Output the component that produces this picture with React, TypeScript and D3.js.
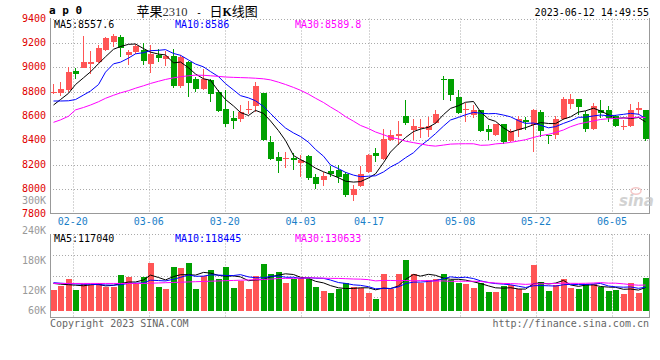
import React from 'react';
import * as d3 from 'd3';

// trading sessions 2023-02-15 .. 2023-06-12
const dates = [
  '02-15', '02-16', '02-17', '02-20', '02-21', '02-22', '02-23', '02-24', '02-27', '02-28',
  '03-01', '03-02', '03-03', '03-06', '03-07', '03-08', '03-09', '03-10', '03-13', '03-14',
  '03-15', '03-16', '03-17', '03-20', '03-21', '03-22', '03-23', '03-24', '03-27', '03-28',
  '03-29', '03-30', '03-31', '04-03', '04-04', '04-06', '04-07', '04-10', '04-11', '04-12',
  '04-13', '04-14', '04-17', '04-18', '04-19', '04-20', '04-21', '04-24', '04-25', '04-26',
  '04-27', '04-28', '05-04', '05-05', '05-08', '05-09', '05-10', '05-11', '05-12', '05-15',
  '05-16', '05-17', '05-18', '05-19', '05-22', '05-23', '05-24', '05-25', '05-26', '05-29',
  '05-30', '05-31', '06-01', '06-02', '06-05', '06-06', '06-07', '06-08', '06-09', '06-12',
];

const opens = [
  8790, 8788, 8810, 8968, 8993, 9023, 9042, 9145, 9205, 9252,
  9104, 9124, 9143, 9028, 9104, 9069, 9096, 8845, 9042, 8900,
  8820, 8892, 8796, 8659, 8586, 8572, 8655, 8679, 8788, 8386,
  8264, 8252, 8258, 8214, 8269, 8100, 8073, 8146, 8160, 8127,
  7950, 8023, 8141, 8299, 8250, 8406, 8433, 8597, 8487, 8507,
  8487, 8542, 8900, 8905, 8760, 8650, 8605, 8651, 8496, 8441,
  8531, 8395, 8482, 8564, 8523, 8632, 8447, 8441, 8572, 8695,
  8741, 8618, 8490, 8651, 8651, 8597, 8518, 8515, 8646, 8651,
];
const highs = [
  8865, 8883, 9006, 8990, 9255, 9137, 9186, 9246, 9274, 9265,
  9145, 9192, 9197, 9186, 9151, 9137, 9151, 9102, 9055, 8919,
  8987, 8905, 8810, 8810, 8638, 8687, 8720, 8883, 8790, 8433,
  8305, 8305, 8296, 8277, 8277, 8127, 8141, 8187, 8195, 8141,
  8032, 8187, 8291, 8340, 8496, 8482, 8556, 8733, 8578, 8578,
  8591, 8646, 8932, 8905, 8810, 8706, 8687, 8651, 8523, 8535,
  8535, 8496, 8597, 8591, 8659, 8646, 8447, 8597, 8755, 8782,
  8741, 8640, 8706, 8733, 8679, 8605, 8564, 8700, 8714, 8651,
];
const lows = [
  8780, 8763, 8796, 8900, 8990, 8946, 9033, 9132, 9164, 9083,
  9020, 9110, 9022, 8952, 9042, 9014, 8829, 8829, 8755, 8796,
  8815, 8714, 8635, 8509, 8496, 8550, 8618, 8632, 8395, 8242,
  8133, 8176, 8154, 8100, 8073, 8004, 8026, 8100, 8051, 7936,
  7903, 8018, 8133, 8223, 8236, 8395, 8359, 8523, 8400, 8422,
  8428, 8531, 8728, 8722, 8618, 8550, 8586, 8468, 8400, 8436,
  8373, 8386, 8427, 8482, 8305, 8427, 8373, 8414, 8564, 8654,
  8605, 8468, 8482, 8586, 8550, 8509, 8482, 8509, 8605, 8392,
];
const closes = [
  8795, 8823, 8957, 8946, 9047, 9039, 9159, 9238, 9255, 9159,
  9129, 9173, 9050, 9110, 9077, 9096, 8845, 9088, 8872, 8823,
  8900, 8782, 8640, 8531, 8558, 8632, 8660, 8850, 8406, 8250,
  8231, 8256, 8236, 8236, 8092, 8040, 8108, 8127, 8100, 7950,
  8004, 8127, 8277, 8269, 8408, 8441, 8455, 8542, 8515, 8511,
  8515, 8619, 8897, 8769, 8624, 8654, 8651, 8477, 8468, 8531,
  8386, 8477, 8578, 8548, 8651, 8477, 8438, 8572, 8736, 8741,
  8673, 8490, 8679, 8624, 8586, 8515, 8522, 8651, 8665, 8408,
];
const volumes = [
  121000, 130000, 143000, 121000, 134000, 131000, 135000, 127000, 127000, 151000,
  147000, 135000, 147000, 176000, 127000, 123000, 168000, 166000, 176000, 123000,
  150000, 161000, 143000, 168000, 126000, 140000, 123000, 150000, 173000, 153000,
  157000, 136000, 143000, 145000, 143000, 127000, 120000, 116000, 123000, 136000,
  128000, 126000, 116000, 103000, 153000, 123000, 153000, 181000, 153000, 136000,
  141000, 143000, 153000, 141000, 136000, 133000, 126000, 136000, 117000, 117000,
  129000, 131000, 123000, 116000, 171000, 138000, 120000, 131000, 143000, 126000,
  123000, 133000, 133000, 127000, 120000, 121000, 113000, 136000, 116000, 146000,
];

// MA points before a full window is available (they need older sessions)
const ma5Lead = [8690, 8735, 8786, 8858];
const ma10Lead = [8723, 8723, 8725, 8735, 8772, 8805, 8858, 8960, 9028];
const ma30Lead = [
  8548, 8568, 8598, 8650, 8670, 8690, 8717, 8745, 8770, 8790,
  8808, 8828, 8848, 8867, 8885, 8900, 8913, 8922, 8930, 8935,
  8934, 8930, 8925, 8920, 8917, 8915, 8913, 8910, 8905,
];
const vma5Lead = [134500, 133000, 132000, 131000];
const vma10Lead = [136000, 135000, 134000, 133500, 133000, 133000, 132000, 131500, 131000];
const vma30Lead = [
  134500, 134500, 134500, 134500, 134500, 134500, 134500, 134500, 134500, 134500,
  134500, 134500, 134500, 135000, 135500, 136000, 136500, 137000, 137500, 138000,
  138500, 139000, 139500, 140000, 140500, 141000, 141500, 142000, 142500,
];

const dateTicks = ['02-20', '03-06', '03-20', '04-03', '04-17', '05-08', '05-22', '06-05'];
const priceTicks = [9400, 9200, 9000, 8800, 8600, 8400, 8200, 8000, 7800];
const volTicks = [300000, 240000, 180000, 120000, 60000];
const priceMaLabels = ['MA5:8557.6', 'MA10:8586', 'MA30:8589.8'];
const volMaLabels = ['MA5:117040', 'MA10:118445', 'MA30:130633'];
const maColors = ['#000000', '#0000ff', '#ff00ff'];

const UP = '#ff5555';
const DOWN = '#00a000';
const MONO = '"DejaVu Sans Mono", monospace';
const CJK = '"Noto Sans CJK SC", sans-serif';
const SERIF = '"Liberation Serif", serif';

const movingAverage = (vals: number[], n: number, lead: number[]) =>
  vals.map((_, i) => (i < n - 1 ? lead[i] : (d3.mean(vals.slice(i - n + 1, i + 1)) as number)));

export default function App() {
  const left = 50;
  const right = 650;
  const x = d3.scaleBand().domain(dates).range([left, right]);
  const cx = (d: string) => Math.round((x(d) as number) + x.bandwidth() / 2);
  // date grid uses point spacing (slightly wider than the candle step)
  const xTick = d3.scalePoint().domain(dates).range([left, right]);

  const y = d3.scaleLinear().domain([7800, 9400]).range([213.5, 18.5]);
  const yVol = d3.scaleLinear().domain([60000, 300000]).range([320.7, 200.7]);
  const volBase = 311;
  const volTop = 234.5;
  const volBottom = 317.5;

  const priceMAs = [
    movingAverage(closes, 5, ma5Lead),
    movingAverage(closes, 10, ma10Lead),
    movingAverage(closes, 30, ma30Lead),
  ];
  const volMAs = [
    movingAverage(volumes, 5, vma5Lead),
    movingAverage(volumes, 10, vma10Lead),
    movingAverage(volumes, 30, vma30Lead),
  ];

  const priceLine = d3
    .line<number>()
    .x((_, i) => cx(dates[i]) - 0.5)
    .y((v) => y(v));
  const volLine = d3
    .line<number>()
    .x((_, i) => cx(dates[i]) - 0.5)
    .y((v) => yVol(v));

  const grid = '#aaaaaa';
  const axis = '#999999';

  return (
    <svg
      width={660}
      height={360}
      style={{ position: 'absolute', left: 0, top: 0, background: '#fff' }}
    >
      {/* header */}
      <text x={49} y={14} fontFamily={MONO} fontWeight="bold" fontSize={11}>a p 0</text>
      <text y={16} fontFamily={CJK} fontSize={13}>
        <tspan x={136.5}>苹果</tspan>
        <tspan fontFamily={SERIF} fontSize={12.5} fill="#333">2310</tspan>
        <tspan x={196} fontFamily={MONO} fontSize={10}>-</tspan>
        <tspan x={209.5}>日</tspan>
        <tspan fontFamily={SERIF} fontWeight="bold" fontSize={12}>K</tspan>
        <tspan>线图</tspan>
      </text>
      <text x={649} y={16} textAnchor="end" fontFamily={MONO} fontSize={10}>2023-06-12 14:49:55</text>

      {/* price panel grid */}
      {priceTicks.slice(0, -1).map((t) => (
        <line key={t} x1={left} x2={right} y1={Math.round(y(t)) + 0.5} y2={Math.round(y(t)) + 0.5}
          stroke={grid} strokeDasharray="1,2" />
      ))}
      {dateTicks.map((d) => (
        <g key={d}>
          <line x1={Math.round(xTick(d) as number) + 0.5} x2={Math.round(xTick(d) as number) + 0.5}
            y1={y(9400)} y2={y(7800)} stroke={grid} strokeDasharray="1,2" />
          <line x1={Math.round(xTick(d) as number) + 0.5} x2={Math.round(xTick(d) as number) + 0.5}
            y1={volTop} y2={volBottom} stroke={grid} strokeDasharray="1,2" />
          <text x={xTick(d) as number} y={225} textAnchor="middle" fontFamily={MONO} fontSize={10}
            fill="#1a80c8">{d}</text>
        </g>
      ))}
      <line x1={left + 0.5} x2={left + 0.5} y1={18} y2={214} stroke={axis} />
      <line x1={right - 0.5} x2={right - 0.5} y1={18} y2={214} stroke={axis} />
      <line x1={left} x2={right} y1={213.5} y2={213.5} stroke={axis} />

      {/* price labels */}
      {priceTicks.map((t) => (
        <text key={t} x={46} y={y(t) + 3} textAnchor="end" fontFamily={MONO} fontSize={10} fill="#e00000">{t}</text>
      ))}

      {/* sina watermark */}
      <g opacity={0.75}>
        <ellipse cx={636} cy={191} rx={5} ry={3.2} fill="none" stroke="#f2b6b6" strokeWidth={1.5} />
        <text x={619} y={206} fontFamily='"DejaVu Sans", sans-serif' fontStyle="italic" fontWeight="bold"
          fontSize={15} fill="#c4c4c4">sina</text>
      </g>

      {/* candles */}
      {dates.map((d, i) => {
        const up = closes[i] >= opens[i];
        const c = up ? UP : DOWN;
        const xc = cx(d);
        const top = Math.round(y(Math.max(opens[i], closes[i])));
        const bot = Math.round(y(Math.min(opens[i], closes[i])));
        return (
          <g key={d} shapeRendering="crispEdges">
            <line x1={xc - 0.5} x2={xc - 0.5} y1={Math.round(y(highs[i]))} y2={Math.round(y(lows[i]))} stroke={c} />
            <rect x={xc - 3} y={top} width={6} height={Math.max(1, bot - top)} fill={c} />
          </g>
        );
      })}

      {priceMAs.map((vals, k) => (
        <path key={k} d={priceLine(vals) as string} fill="none" stroke={maColors[k]} strokeWidth={1} />
      ))}
      {priceMaLabels.map((s, k) => (
        <text key={s} x={[54, 175, 295][k]} y={27.5} fontFamily={MONO} fontSize={10} fill={maColors[k]}>{s}</text>
      ))}

      {/* volume panel */}
      <line x1={left} x2={right} y1={volTop} y2={volTop} stroke={grid} strokeDasharray="1,2" />
      {[1, 2, 3].map((q) => {
        const yy = Math.round(volTop + ((volBottom - volTop) * q) / 4) + 0.5;
        return <line key={q} x1={left} x2={right} y1={yy} y2={yy} stroke={grid} strokeDasharray="1,2" />;
      })}
      <line x1={left + 0.5} x2={left + 0.5} y1={234} y2={318} stroke={axis} />
      <line x1={right - 0.5} x2={right - 0.5} y1={234} y2={318} stroke={axis} />
      <line x1={left} x2={right} y1={volBottom} y2={volBottom} stroke={axis} />

      {volTicks.map((t) => (
        <text key={t} x={46} y={Math.min(yVol(t), 310.7) + 3.5} textAnchor="end" fontFamily={MONO}
          fontSize={10} fill="#999">{`${t / 1000}K`}</text>
      ))}

      {dates.map((d, i) => {
        const top = Math.round(yVol(volumes[i]));
        return (
          <rect key={d} x={cx(d) - 3} y={top} width={6} height={volBase - top}
            fill={closes[i] >= opens[i] ? UP : DOWN} shapeRendering="crispEdges" />
        );
      })}
      {volMAs.map((vals, k) => (
        <path key={k} d={volLine(vals) as string} fill="none" stroke={maColors[k]} strokeWidth={1} />
      ))}
      {volMaLabels.map((s, k) => (
        <text key={s} x={[54, 175, 295][k]} y={242} fontFamily={MONO} fontSize={10} fill={maColors[k]}>{s}</text>
      ))}

      {/* footer */}
      <text x={50} y={327} fontFamily={MONO} fontSize={10} fill="#666">Copyright 2023 SINA.COM</text>
      <text x={649} y={327} textAnchor="end" fontFamily={MONO} fontSize={10} fill="#666">http://finance.sina.com.cn</text>
    </svg>
  );
}
